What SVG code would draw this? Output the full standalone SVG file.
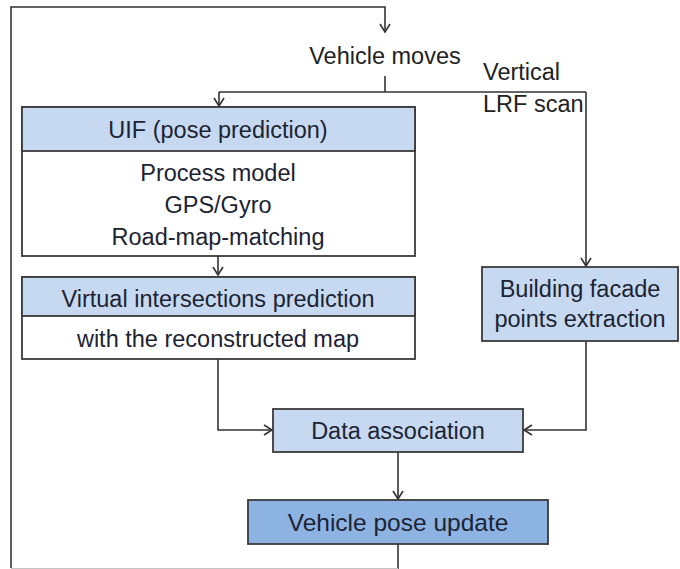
<svg xmlns="http://www.w3.org/2000/svg" width="680" height="569" viewBox="0 0 680 569">
<defs>
<style>
.box{fill:#c6d9f1;stroke:#3a3a3a;stroke-width:1.8}
.wbox{fill:#ffffff;stroke:#3a3a3a;stroke-width:1.8}
.dbox{fill:#8db3e2;stroke:#3a3a3a;stroke-width:1.8}
.t{font-family:"Liberation Sans",Arial,sans-serif;font-size:23.5px;fill:#1c2333;text-anchor:middle}
.p{font-family:"Liberation Sans",Arial,sans-serif;font-size:23.5px;fill:#222222}
.c{fill:none;stroke:#333333;stroke-width:1.6}
</style>
<marker id="ah" viewBox="-10 -7 12 14" refX="0" refY="0" markerWidth="12" markerHeight="14" markerUnits="userSpaceOnUse" orient="auto">
<path d="M-8,-5 L0,0 L-8,5" fill="none" stroke="#333333" stroke-width="1.6"/>
</marker>
</defs>
<rect width="680" height="569" fill="#ffffff"/>
<g id="connectors">
<path class="c" d="M398,544 V569"/>
<path d="M11,568.5 H398" fill="none" stroke="#c4c4c4" stroke-width="1.2"/>
<path class="c" d="M11,568 V7 H385 V32" marker-end="url(#ah)"/>
<path class="c" d="M385,76 V92"/>
<path class="c" d="M219,92 H586"/>
<path class="c" d="M219,92 V106" marker-end="url(#ah)"/>
<path class="c" d="M586,92 V266" marker-end="url(#ah)"/>
<path class="c" d="M218,256 V275" marker-end="url(#ah)"/>
<path class="c" d="M218,359 V430 H272" marker-end="url(#ah)"/>
<path class="c" d="M586,341 V430 H524" marker-end="url(#ah)"/>
<path class="c" d="M398,452 V499" marker-end="url(#ah)"/>
</g>
<g id="label-vehicle-moves">
<text class="p" x="385" y="64" text-anchor="middle">Vehicle moves</text>
</g>
<g id="label-lrf">
<text class="p" x="483" y="80">Vertical</text>
<text class="p" x="483" y="112">LRF scan</text>
</g>
<g id="uif">
<rect class="wbox" x="22" y="107" width="393" height="149"/>
<rect class="box" x="22" y="107" width="393" height="44"/>
<text class="t" x="218" y="138">UIF (pose prediction)</text>
<text class="t" x="218" y="181">Process model</text>
<text class="t" x="218" y="213">GPS/Gyro</text>
<text class="t" x="218" y="245">Road-map-matching</text>
</g>
<g id="virtual">
<rect class="wbox" x="22" y="277" width="393" height="82"/>
<rect class="box" x="22" y="277" width="393" height="39"/>
<text class="t" x="218" y="307">Virtual intersections prediction</text>
<text class="t" x="218" y="347">with the reconstructed map</text>
</g>
<g id="building">
<rect class="box" x="482" y="267" width="196" height="74"/>
<text class="t" x="580" y="297">Building facade</text>
<text class="t" x="580" y="327">points extraction</text>
</g>
<g id="data-association">
<rect class="box" x="273" y="409" width="250" height="43"/>
<text class="t" x="398" y="439">Data association</text>
</g>
<g id="vehicle-pose-update">
<rect class="dbox" x="248" y="500" width="300" height="44"/>
<text class="t" x="398" y="531" style="font-size:24.5px">Vehicle pose update</text>
</g>
</svg>
